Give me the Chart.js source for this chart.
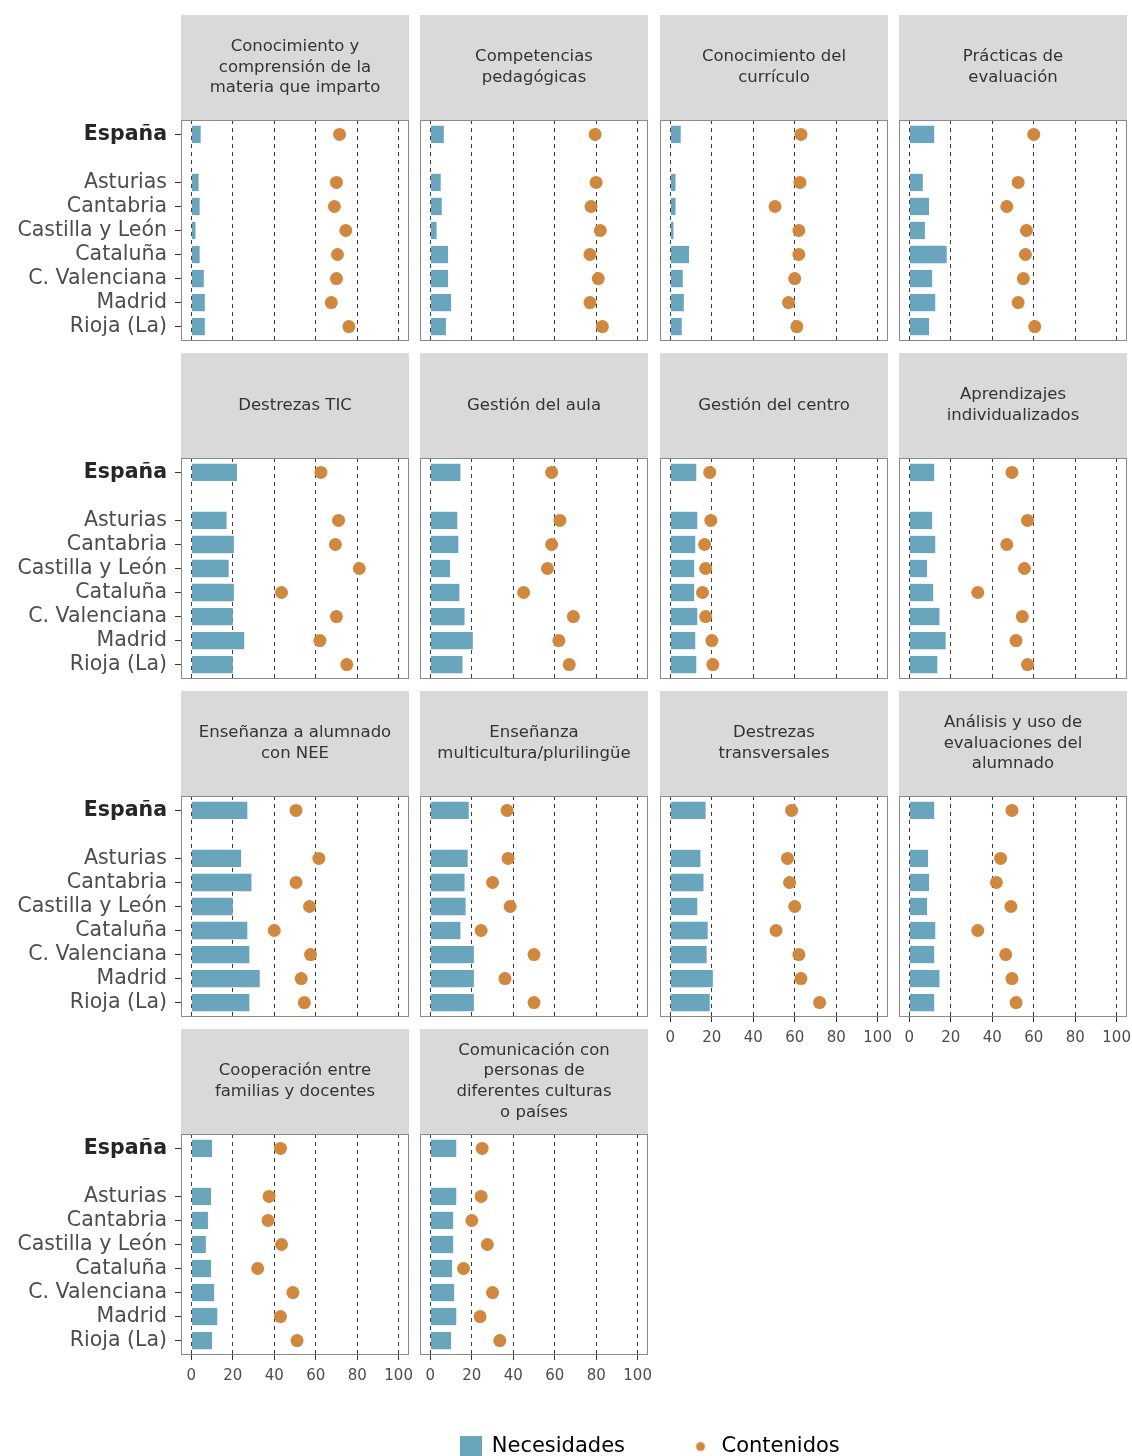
<!DOCTYPE html>
<html>
<head>
<meta charset="utf-8">
<script src="https://cdn.jsdelivr.net/npm/chart.js@4/dist/chart.umd.min.js"></script>
<style>
  html, body { margin: 0; padding: 0; background: #ffffff; }
  body { width: 1132px; height: 1456px; position: relative; overflow: hidden; }
  canvas { position: absolute; }
</style>
</head>
<body>
<script>
// ---------------- DATA ----------------
const regions = ['España', 'Asturias', 'Cantabria', 'Castilla y León', 'Cataluña', 'C. Valenciana', 'Madrid', 'Rioja (La)'];
const xTicks = [0, 20, 40, 60, 80, 100];
const seriesNames = ['Necesidades', 'Contenidos'];

const panelTitles = [
  ['Conocimiento y', 'comprensión de la', 'materia que imparto'],
  ['Competencias', 'pedagógicas'],
  ['Conocimiento del', 'currículo'],
  ['Prácticas de', 'evaluación'],
  ['Destrezas TIC'],
  ['Gestión del aula'],
  ['Gestión del centro'],
  ['Aprendizajes', 'individualizados'],
  ['Enseñanza a alumnado', 'con NEE'],
  ['Enseñanza', 'multicultura/plurilingüe'],
  ['Destrezas', 'transversales'],
  ['Análisis y uso de', 'evaluaciones del', 'alumnado'],
  ['Cooperación entre', 'familias y docentes'],
  ['Comunicación con', 'personas de', 'diferentes culturas', 'o países']
];

const necConocimientoMateria   = [4.5, 3.5, 4, 2, 4, 6, 6.5, 6.5];
const conConocimientoMateria   = [71.5, 70, 69, 74.5, 70.5, 70, 67.5, 76];
const necCompetenciasPedag     = [6.5, 5, 5.5, 3, 8.5, 8.5, 10, 7.5];
const conCompetenciasPedag     = [79.5, 80, 77.5, 82, 77, 81, 77, 83];
const necConocimientoCurriculo = [5, 2.5, 2.5, 1.5, 9, 6, 6.5, 5.5];
const conConocimientoCurriculo = [63, 62.5, 50.5, 62, 62, 60, 57, 61];
const necPracticasEvaluacion   = [12, 6.5, 9.5, 7.5, 18, 11, 12.5, 9.5];
const conPracticasEvaluacion   = [60, 52.5, 47, 56.5, 56, 55, 52.5, 60.5];
const necDestrezasTIC          = [22, 17, 20.5, 18, 20.5, 20, 25.5, 20];
const conDestrezasTIC          = [62.5, 71, 69.5, 81, 43.5, 70, 62, 75];
const necGestionAula           = [14.5, 13, 13.5, 9.5, 14, 16.5, 20.5, 15.5];
const conGestionAula           = [58.5, 62.5, 58.5, 56.5, 45, 69, 62, 67];
const necGestionCentro         = [12.5, 13, 12, 11.5, 11.5, 13, 12, 12.5];
const conGestionCentro         = [19, 19.5, 16.5, 17, 15.5, 17, 20, 20.5];
const necAprendizajesIndiv     = [12, 11, 12.5, 8.5, 11.5, 14.5, 17.5, 13.5];
const conAprendizajesIndiv     = [49.5, 57, 47, 55.5, 33, 54.5, 51.5, 57];
const necAlumnadoNEE           = [27, 24, 29, 20, 27, 28, 33, 28];
const conAlumnadoNEE           = [50.5, 61.5, 50.5, 57, 40, 57.5, 53, 54.5];
const necMulticultura          = [18.5, 18, 16.5, 17, 14.5, 21, 21, 21];
const conMulticultura          = [37, 37.5, 30, 38.5, 24.5, 50, 36, 50];
const necTransversales         = [17, 14.5, 16, 13, 18, 17.5, 20.5, 19];
const conTransversales         = [58.5, 56.5, 57.5, 60, 51, 62, 63, 72];
const necAnalisisEvaluaciones  = [12, 9, 9.5, 8.5, 12.5, 12, 14.5, 12];
const conAnalisisEvaluaciones  = [49.5, 44, 42, 49, 33, 46.5, 49.5, 51.5];
const necCooperacionFamilias   = [10, 9.5, 8, 7, 9.5, 11, 12.5, 10];
const conCooperacionFamilias   = [43, 37.5, 37, 43.5, 32, 49, 43, 51];
const necComunicacionCulturas  = [12.5, 12.5, 11, 11, 10.5, 11.5, 12.5, 10];
const conComunicacionCulturas  = [25, 24.5, 20, 27.5, 16, 30, 24, 33.5];

const necesidadesSeries = [necConocimientoMateria, necCompetenciasPedag, necConocimientoCurriculo, necPracticasEvaluacion,
  necDestrezasTIC, necGestionAula, necGestionCentro, necAprendizajesIndiv, necAlumnadoNEE, necMulticultura,
  necTransversales, necAnalisisEvaluaciones, necCooperacionFamilias, necComunicacionCulturas];
const contenidosSeries = [conConocimientoMateria, conCompetenciasPedag, conConocimientoCurriculo, conPracticasEvaluacion,
  conDestrezasTIC, conGestionAula, conGestionCentro, conAprendizajesIndiv, conAlumnadoNEE, conMulticultura,
  conTransversales, conAnalisisEvaluaciones, conCooperacionFamilias, conComunicacionCulturas];

// ---------------- LAYOUT & STYLE ----------------
const FONT = '"DejaVu Sans", "Liberation Sans", sans-serif';
const BAR_COLOR = '#6aa5be';
const DOT_COLOR = '#d0883f';
const STRIP_BG = '#d9d9d9';
const STRIP_TEXT = '#333333';
const GRID_COLOR = '#3a3a3a';
const BORDER_COLOR = '#8a8a8a';
const PLOT_LEFT = [181, 420, 660, 899];
const PLOT_TOP = [120, 458, 796, 1134];
const PLOT_W = 228, PLOT_H = 221, STRIP_H = 105;

// España sits alone, then a blank slot, then the regions
const slotOf = i => (i === 0 ? 0 : i + 1);
const labelForSlot = v => {
  for (let i = 0; i < regions.length; i++) if (slotOf(i) === v) return regions[i];
  return '';
};

function panelPlugin(lines) {
  return {
    id: 'panelDecor',
    beforeDraw(chart) {
      const { ctx, chartArea: a } = chart;
      ctx.save();
      ctx.fillStyle = STRIP_BG;
      ctx.fillRect(a.left, a.top - STRIP_H, a.right - a.left, STRIP_H);
      ctx.fillStyle = STRIP_TEXT;
      ctx.font = '16.5px ' + FONT;
      ctx.textAlign = 'center';
      ctx.textBaseline = 'middle';
      const cx = (a.left + a.right) / 2;
      const cy = a.top - STRIP_H / 2;
      const lh = 20.6;
      lines.forEach((t, k) => ctx.fillText(t, cx, cy + (k - (lines.length - 1) / 2) * lh));
      ctx.restore();
    },
    afterDraw(chart) {
      const { ctx, chartArea: a } = chart;
      ctx.save();
      ctx.strokeStyle = BORDER_COLOR;
      ctx.lineWidth = 1;
      ctx.strokeRect(Math.round(a.left) + 0.5, Math.round(a.top) + 0.5,
        Math.round(a.right - a.left) - 1, Math.round(a.bottom - a.top) - 1);
      ctx.restore();
    }
  };
}

for (let p = 0; p < panelTitles.length; p++) {
  const row = Math.floor(p / 4), col = p % 4;
  const L = PLOT_LEFT[col], T = PLOT_TOP[row];
  const isLeft = col === 0;
  const isBottom = p >= panelTitles.length - 4;
  const yw = isLeft ? L : 0;
  const padL = isLeft ? 0 : 2, padR = 8, padB = 2;
  const xh = isBottom ? 34 : 0;
  const cLeft = L - yw - padL;
  const cTop = T - STRIP_H;
  const cW = yw + padL + PLOT_W + padR;
  const cH = STRIP_H + PLOT_H + xh + padB;

  const canvas = document.createElement('canvas');
  canvas.width = cW; canvas.height = cH;
  canvas.style.left = cLeft + 'px'; canvas.style.top = cTop + 'px';
  canvas.style.width = cW + 'px'; canvas.style.height = cH + 'px';
  document.body.appendChild(canvas);

  const nec = necesidadesSeries[p], con = contenidosSeries[p];

  new Chart(canvas, {
    type: 'bar',
    data: {
      datasets: [
        {
          type: 'scatter', label: seriesNames[1],
          data: con.map((v, i) => ({ x: v, y: slotOf(i) })),
          pointBackgroundColor: DOT_COLOR, pointBorderWidth: 0, pointRadius: 6.5,
          order: 0
        },
        {
          type: 'bar', label: seriesNames[0],
          data: nec.map((v, i) => ({ x: v, y: slotOf(i) })),
          backgroundColor: BAR_COLOR, borderWidth: 0,
          barPercentage: 0.9, categoryPercentage: 0.8,
          order: 1
        }
      ]
    },
    options: {
      indexAxis: 'y',
      responsive: false, animation: false, devicePixelRatio: 1, events: [],
      layout: { autoPadding: false, padding: { left: padL, right: padR, top: STRIP_H, bottom: padB } },
      plugins: { legend: { display: false }, tooltip: { enabled: false } },
      scales: {
        x: {
          type: 'linear', position: 'bottom', min: -5, max: 105, offset: false,
          afterBuildTicks: s => { s.ticks = xTicks.map(v => ({ value: v })); },
          afterFit: s => { s.height = xh; s.paddingLeft = 0; s.paddingRight = 0; s.paddingTop = 0; s.paddingBottom = 0; },
          grid: { display: true, offset: false, drawOnChartArea: true, drawTicks: isBottom, tickLength: 5,
                  color: GRID_COLOR, lineWidth: 1, tickColor: '#333333', tickWidth: 1 },
          border: { display: false, dash: [4, 4] },
          ticks: { display: isBottom, padding: 7, autoSkip: false, maxRotation: 0,
                   font: { family: FONT, size: 15 }, color: '#4d4d4d' }
        },
        y: {
          type: 'linear', position: 'left', reverse: true, min: -0.6, max: 8.6, offset: false,
          display: isLeft,
          afterBuildTicks: s => { s.ticks = regions.map((r, i) => ({ value: slotOf(i) })); },
          afterFit: s => { s.width = yw; s.paddingTop = 0; s.paddingBottom = 0; s.paddingLeft = 0; s.paddingRight = 0; },
          grid: { offset: false, drawOnChartArea: false, drawTicks: true, tickLength: 6, color: '#333333', tickColor: '#333333', tickWidth: 1 },
          border: { display: false },
          ticks: {
            autoSkip: false, padding: 8,
            callback: v => labelForSlot(v),
            font: c => ({ family: FONT, size: 20.5, weight: (c.tick && c.tick.value === 0) ? 'bold' : 'normal' }),
            color: c => (c.tick && c.tick.value === 0) ? '#262626' : '#4d4d4d'
          }
        }
      }
    },
    plugins: [panelPlugin(panelTitles[p])]
  });
}

// ---------------- LEGEND ----------------
function swatch(kind) {
  const c = document.createElement('canvas');
  c.width = 22; c.height = 22;
  const g = c.getContext('2d');
  if (kind === 'bar') { g.fillStyle = BAR_COLOR; g.fillRect(0, 0, 22, 22); }
  else { g.fillStyle = DOT_COLOR; g.beginPath(); g.arc(11, 11, 4.5, 0, Math.PI * 2); g.fill(); }
  return c;
}
const legendCanvas = document.createElement('canvas');
const LEG_LEFT = 177, LEG_W = 946, LEG_TOP = 1371, LEG_H = 340;
legendCanvas.width = LEG_W; legendCanvas.height = LEG_H;
legendCanvas.style.left = LEG_LEFT + 'px'; legendCanvas.style.top = LEG_TOP + 'px';
legendCanvas.style.width = LEG_W + 'px'; legendCanvas.style.height = LEG_H + 'px';
document.body.appendChild(legendCanvas);
const barSwatch = swatch('bar'), dotSwatch = swatch('dot');
new Chart(legendCanvas, {
  type: 'bar',
  data: { labels: [], datasets: [
    { label: seriesNames[0], data: [], backgroundColor: BAR_COLOR },
    { label: seriesNames[1], data: [], backgroundColor: DOT_COLOR }
  ] },
  options: {
    responsive: false, animation: false, devicePixelRatio: 1, events: [],
    layout: { padding: 0 },
    scales: { x: { display: false }, y: { display: false } },
    plugins: {
      tooltip: { enabled: false },
      legend: {
        display: true, position: 'top', align: 'center',
        labels: {
          usePointStyle: true, padding: 65, boxWidth: 21, boxHeight: 21,
          font: { family: FONT, size: 21 }, color: '#333333',
          generateLabels: () => [
            { text: seriesNames[0], pointStyle: barSwatch, fillStyle: BAR_COLOR, strokeStyle: BAR_COLOR, lineWidth: 0, hidden: false, datasetIndex: 0 },
            { text: seriesNames[1], pointStyle: dotSwatch, fillStyle: DOT_COLOR, strokeStyle: DOT_COLOR, lineWidth: 0, hidden: false, datasetIndex: 1 }
          ]
        }
      }
    }
  }
});
</script>
</body>
</html>
